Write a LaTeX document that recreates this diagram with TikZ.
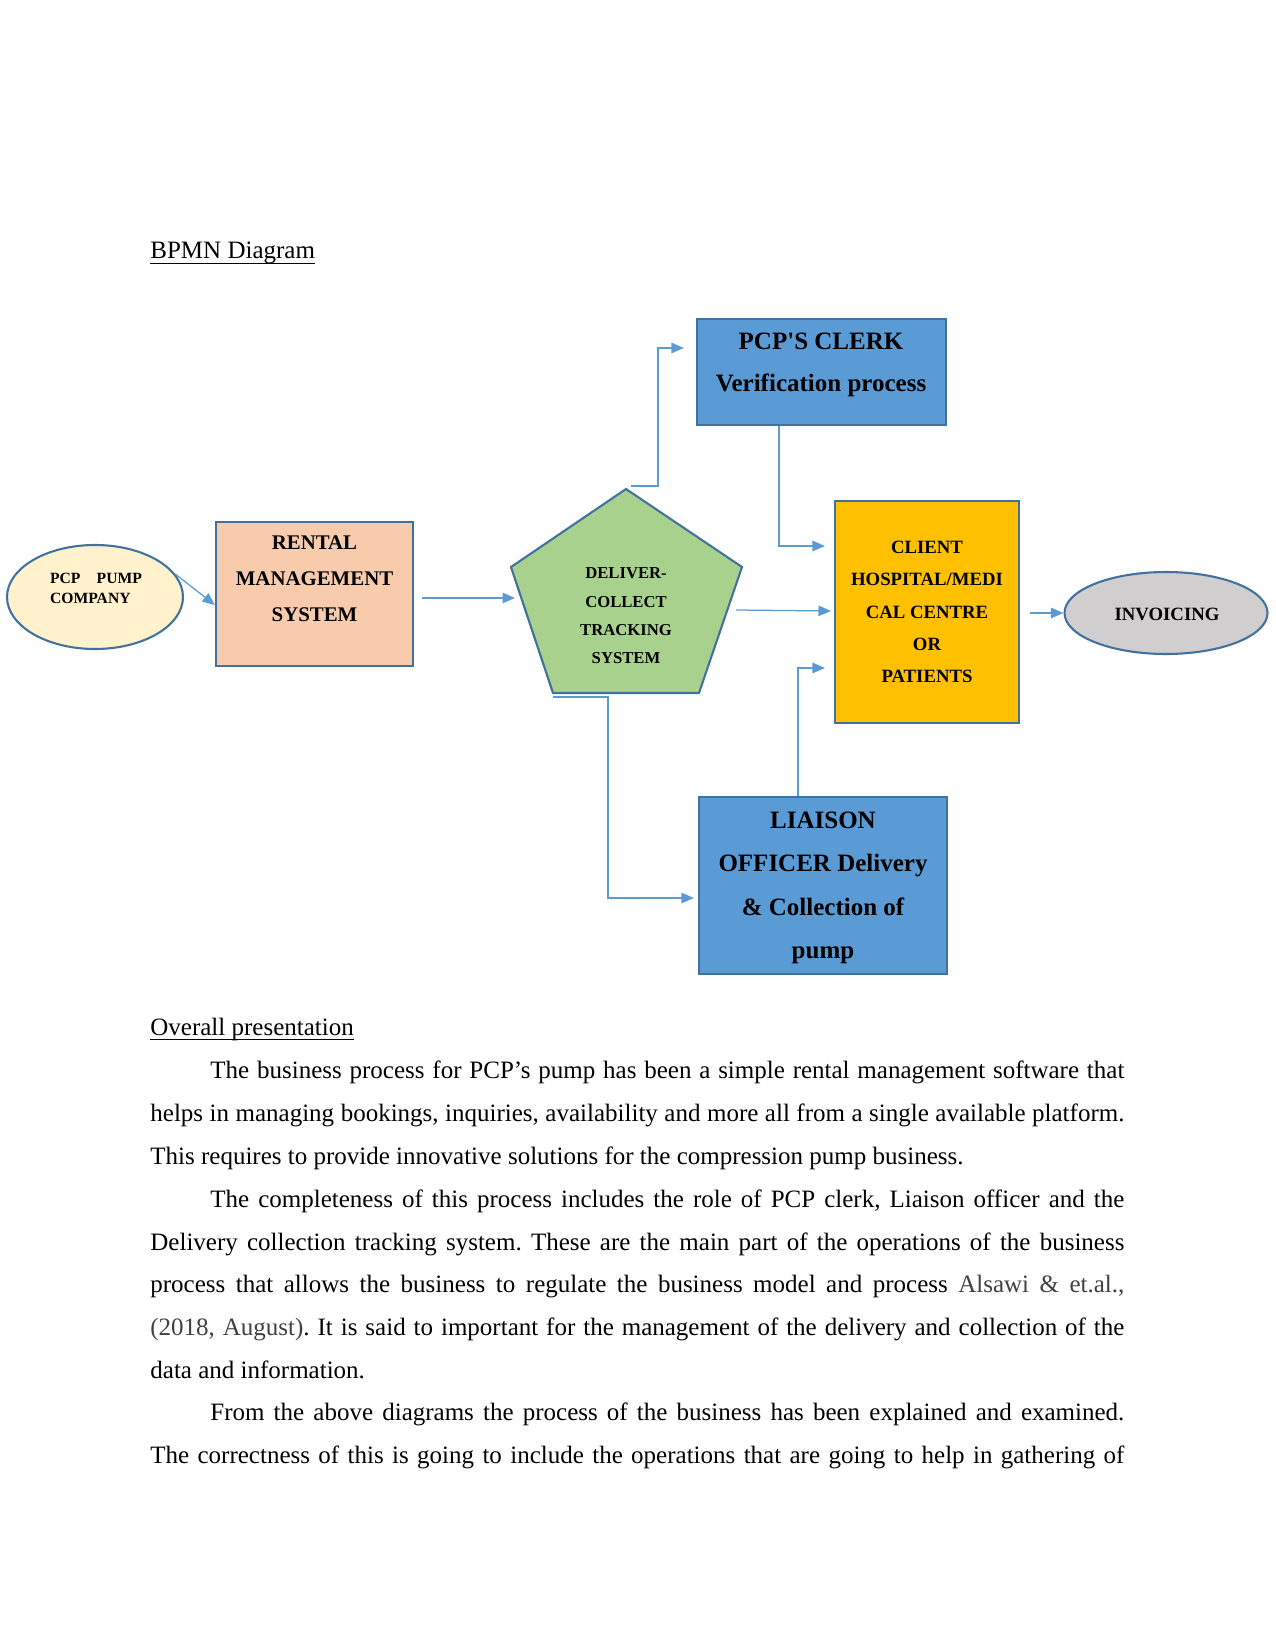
\documentclass[tikz,border=0pt]{standalone}
\usepackage{fontspec}
\setmainfont{Liberation Serif}
\usetikzlibrary{arrows.meta,shapes.geometric,calc}
\definecolor{bordercol}{HTML}{41719C}
\definecolor{arrowcol}{HTML}{5B9BD5}
\definecolor{boxblue}{HTML}{5B9BD5}
\definecolor{rentfill}{HTML}{F8CBAD}
\definecolor{greenfill}{HTML}{A9D18E}
\definecolor{clientfill}{HTML}{FFC000}
\definecolor{invfill}{HTML}{D0CECE}
\definecolor{pcpfill}{HTML}{FFF2CC}
\definecolor{citegray}{HTML}{404040}
\newcommand\myul[1]{\setbox0\hbox{#1}\rlap{\rule[-2.3pt]{\wd0}{0.6pt}}\box0}
\frenchspacing
\begin{document}
\frenchspacing
\begin{tikzpicture}[x=0.48pt,y=-0.48pt]
\useasboundingbox (0,0) rectangle (1275,1650);
\tikzset{
 shapeborder/.style={draw=bordercol, line width=1pt},
 boxnode/.style={shapeborder, rectangle, inner sep=0pt},
 conn/.style={draw=arrowcol, line width=0.6pt, -{Triangle[length=6pt,width=5pt]}},
 lbl/.style={align=center, inner sep=0pt, text=black},
 bodyline/.style={anchor=base west, inner sep=0pt, font=\fontsize{12}{14}\selectfont\frenchspacing},
}
% headings
\node[bodyline] (title) at (150,259) {\myul{BPMN Diagram}};
% PCP pump company
\node[shapeborder, fill=pcpfill, ellipse, inner sep=0pt, minimum width={176*0.48pt}, minimum height={104*0.48pt}] (pcp) at (95,597) {};
\node[lbl, align=left, font=\fontsize{7.5}{9.6}\selectfont\bfseries] (pcpt) at (96,588) {\makebox[44pt][s]{PCP PUMP}\\COMPANY};
% rental
\node[boxnode, fill=rentfill, minimum width={197*0.48pt}, minimum height={144*0.48pt}] (rent) at (314.5,594) {};
\node[lbl, font=\fontsize{10}{17.3}\selectfont\bfseries] (rentt) at (314.5,579) {RENTAL\\MANAGEMENT\\SYSTEM};
% pentagon
\coordinate (p1) at (626,489);
\coordinate (p2) at (742,567);
\coordinate (p3) at (699,693);
\coordinate (p4) at (553,693);
\coordinate (p5) at (511,567);
\draw[shapeborder, fill=greenfill, line join=miter] (p1) -- (p2) -- (p3) -- (p4) -- (p5) -- cycle;
\node[lbl, font=\fontsize{8}{13.6}\selectfont\bfseries] (dct) at (626,616) {DELIVER-\\COLLECT\\TRACKING\\SYSTEM};
\coordinate (dctin) at (515,598);
\coordinate (dctout) at (736,610);
\coordinate (dcttop) at (631,486);
\coordinate (dctbot) at (553,697);
% clerk
\node[boxnode, fill=boxblue, minimum width={249*0.48pt}, minimum height={106*0.48pt}] (clerk) at (821.5,372) {};
\node[lbl, font=\fontsize{12}{20.2}\selectfont\bfseries] (clerkt) at (821,365) {PCP\textquotesingle S CLERK\\Verification process};
% client
\node[boxnode, fill=clientfill, minimum width={184*0.48pt}, minimum height={222*0.48pt}] (client) at (927,612) {};
\node[lbl, font=\fontsize{9}{15.5}\selectfont\bfseries] (clientt) at (927,612) {CLIENT\\HOSPITAL/MEDI\\CAL CENTRE\\OR\\PATIENTS};
% invoicing
\node[shapeborder, fill=invfill, ellipse, inner sep=0pt, minimum width={203*0.48pt}, minimum height={82*0.48pt}] (inv) at (1166,613) {};
\node[lbl, font=\fontsize{9}{11}\selectfont\bfseries] (invt) at (1167,614) {INVOICING};
% liaison
\node[boxnode, fill=boxblue, minimum width={248*0.48pt}, minimum height={177*0.48pt}] (liaison) at (823,885.5) {};
\node[lbl, font=\fontsize{12}{20.8}\selectfont\bfseries] (liaisont) at (823,888) {LIAISON\\OFFICER Delivery\\\& Collection of\\pump};
% connectors
\draw[conn] (pcp.16) -- ($(rent.west)+(0,11)$);
\draw[conn] ($(rent.east)+(8,4)$) -- (dctin);
\draw[conn] (dctout) -- ($(client.west)+(-3,-1)$);
\draw[conn] (dcttop) -- ++(27,0) |- ($(clerk.west)+(-12,-24)$);
\draw[conn] ($(clerk.south)+(-42.5,0)$) |- ($(client.west)+(-9,-66)$);
\draw[conn] ($(liaison.north)+(-25,0)$) |- ($(client.west)+(-9,56)$);
\draw[conn] (dctbot) -- ++(55,0) |- ($(liaison.west)+(-4,12.5)$);
\draw[conn] ($(client.east)+(10,1)$) -- (inv.west);
% body text
\node[bodyline] (overall) at (150,1035) {\myul{Overall presentation}};
\node[bodyline] (l1) at (210,1078) {\makebox[438.7pt][s]{The business process for PCP’s pump has been a simple rental management software that}};
\node[bodyline] (l2) at (150,1121) {\makebox[467.5pt][s]{helps in managing bookings, inquiries, availability and more all from a single available platform.}};
\node[bodyline] (l3) at (150,1164) {This requires to provide innovative solutions for the compression pump business.};
\node[bodyline] (l4) at (210,1207) {\makebox[438.7pt][s]{The completeness of this process includes the role of PCP clerk, Liaison officer and the}};
\node[bodyline] (l5) at (150,1250) {\makebox[467.5pt][s]{Delivery collection tracking system. These are the main part of the operations of the business}};
\node[bodyline] (l6) at (150,1292) {\makebox[467.5pt][s]{process that allows the business to regulate the business model and process \textcolor{citegray}{Alsawi} \textcolor{citegray}{\&} \textcolor{citegray}{et.al.,}}};
\node[bodyline] (l7) at (150,1335) {\makebox[467.5pt][s]{\textcolor{citegray}{(2018,} \textcolor{citegray}{August)}. It is said to important for the management of the delivery and collection of the}};
\node[bodyline] (l8) at (150,1378) {data and information.};
\node[bodyline] (l9) at (210,1420) {\makebox[438.7pt][s]{From the above diagrams the process of the business has been explained and examined.}};
\node[bodyline] (l10) at (150,1463) {\makebox[467.5pt][s]{The correctness of this is going to include the operations that are going to help in gathering of}};
\end{tikzpicture}
\end{document}
